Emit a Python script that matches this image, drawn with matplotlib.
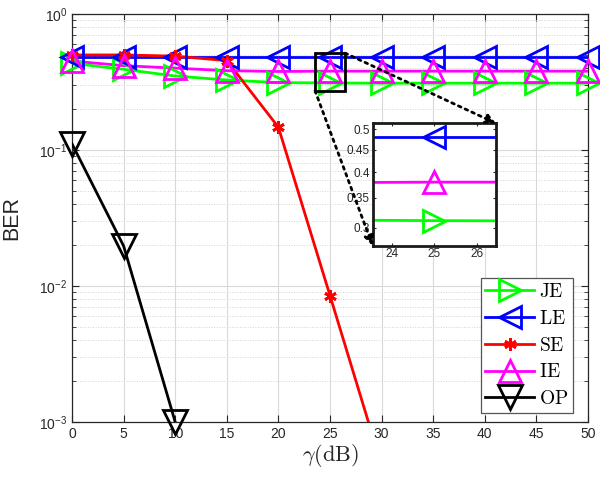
import numpy as np
import matplotlib
matplotlib.use("Agg")
import matplotlib.pyplot as plt
from matplotlib.lines import Line2D
from matplotlib.patches import Rectangle, ConnectionPatch
from matplotlib.font_manager import FontProperties
from matplotlib.ticker import LogLocator, NullFormatter, FixedLocator, FixedFormatter

plt.rcParams['font.family'] = ['Liberation Sans', 'DejaVu Sans']
plt.rcParams['mathtext.fontset'] = 'custom'
plt.rcParams['mathtext.rm'] = 'Liberation Sans'
plt.rcParams['mathtext.it'] = 'Liberation Sans:italic'

# ---------------- data ----------------
gamma_db = [0, 5, 10, 15, 20, 25, 30, 35, 40, 45, 50]
ber_je = [0.434, 0.392, 0.350, 0.327, 0.313, 0.311, 0.310, 0.310, 0.310, 0.310, 0.310]
ber_le = [0.48, 0.48, 0.48, 0.48, 0.48, 0.48, 0.48, 0.48, 0.48, 0.48, 0.48]
gamma_se = [0, 5, 10, 15, 20, 25, 30]
ber_se = [0.50, 0.50, 0.49, 0.454, 0.147, 0.0085, 0.00048]
ber_ie = [0.451, 0.417, 0.400, 0.383, 0.378, 0.38, 0.38, 0.38, 0.38, 0.38, 0.38]
gamma_op = [0, 5, 10]
ber_op = [0.111, 0.0197, 0.001]

labels = ['JE', 'LE', 'SE', 'IE', 'OP']
xticks = [0, 5, 10, 15, 20, 25, 30, 35, 40, 45, 50]
inset_xticks = [24, 25, 26]
inset_yticks = [0.3, 0.35, 0.4, 0.45, 0.5]
inset_xlim = (23.55, 26.45)
inset_ylim = (0.273, 0.516)

series = [
    (gamma_db, ber_je, (0, 1, 0), '>', 16),
    (gamma_db, ber_le, (0, 0, 1), '<', 16),
    (gamma_se, ber_se, (1, 0, 0), (6, 2, 0), 9),
    (gamma_db, ber_ie, (1, 0, 1), '^', 16),
    (gamma_op, ber_op, (0, 0, 0), 'v', 17),
]

fig = plt.figure(figsize=(6.0, 4.78), dpi=100)
ax = fig.add_axes([0.12, 0.1172, 0.86, 0.8535])

ylo, yhi = 1e-3, 1.0
lw = 2.0
handles = []
for (x, y, c, m, ms), lab in zip(series, labels):
    x = np.asarray(x, float); y = np.asarray(y, float)
    ax.plot(x, y, color=c, lw=lw, zorder=3)
    mask = (y >= ylo * 0.999) & (x <= 50)
    ax.plot(x[mask], y[mask], ls='none', marker=m, ms=ms, mfc='none',
            mec=c, mew=2.0, clip_on=False, zorder=4)
    handles.append(Line2D([], [], color=c, lw=lw, marker=m, ms=ms, mfc='none',
                          mec=c, mew=2.0))

ax.set_yscale('log')
ax.set_xlim(0, 50)
ax.set_ylim(ylo, yhi)
ax.set_xticks(xticks)
ax.yaxis.set_minor_locator(LogLocator(base=10, subs=np.arange(2, 10)))
ax.yaxis.set_minor_formatter(NullFormatter())

tc = '#262626'
ax.tick_params(which='both', direction='in', top=True, right=True, colors=tc,
               labelsize=10)
ax.tick_params(which='major', length=5)
ax.tick_params(which='minor', length=3)
for sp in ax.spines.values():
    sp.set_color(tc)
    sp.set_linewidth(0.9)
ax.grid(True, which='major', color='#d9d9d9', lw=0.8, ls='-', zorder=0)
ax.grid(True, which='minor', axis='y', color='#d4d4d4', lw=0.7, ls=':', zorder=0)
ax.set_axisbelow(True)

ax.set_ylabel('BER', fontsize=15.5, color=tc, labelpad=12)
xl = ax.set_xlabel(r'$\gamma(\mathrm{dB})$', fontsize=16, color=tc, labelpad=1)
xl.set_math_fontfamily('cm')

# zoom rectangle
ax.add_patch(Rectangle((inset_xlim[0], inset_ylim[0]),
                       inset_xlim[1] - inset_xlim[0], inset_ylim[1] - inset_ylim[0],
                       fill=False, ec='k', lw=2, zorder=6))

# legend
lp = FontProperties(family='serif', size=14, math_fontfamily='cm')
leg_labels = [r'$\mathrm{%s}$' % l for l in labels]
leg = fig.legend(handles, leg_labels, loc='lower right',
                 bbox_to_anchor=(0.955, 0.136), prop=lp, frameon=True,
                 fancybox=False, edgecolor='#555555', framealpha=1,
                 handlelength=2.5, handletextpad=0.25, labelspacing=0.45,
                 borderpad=0.25, borderaxespad=0)
leg.get_frame().set_linewidth(0.9)

# inset
axins = fig.add_axes([0.621, 0.486, 0.2055, 0.256])
for (x, y, c, m, ms) in series:
    axins.plot(x, y, color=c, lw=lw, marker=m, ms=ms, mfc='none', mec=c, mew=2.0)
axins.set_yscale('log')
axins.set_xlim(*inset_xlim)
axins.set_ylim(*inset_ylim)
axins.xaxis.set_major_locator(FixedLocator(inset_xticks))
axins.xaxis.set_major_formatter(FixedFormatter([str(v) for v in inset_xticks]))
axins.yaxis.set_major_locator(FixedLocator(inset_yticks))
axins.yaxis.set_major_formatter(FixedFormatter([str(v) for v in inset_yticks]))
axins.yaxis.set_minor_locator(FixedLocator([]))
axins.tick_params(which='both', direction='in', top=True, right=True,
                  colors=tc, labelsize=8.5, length=2, pad=2)
for sp in axins.spines.values():
    sp.set_color('#1a1a1a')
    sp.set_linewidth(2)

# dotted arrows
for (rx, ry), (ix, iy) in [((inset_xlim[1], inset_ylim[1]), (1, 1)),
                           ((inset_xlim[0], inset_ylim[0]), (0, 0))]:
    cp = ConnectionPatch(xyA=(rx, ry), coordsA=ax.transData,
                         xyB=(ix, iy), coordsB=axins.transAxes,
                         arrowstyle='-|>', mutation_scale=14, lw=2, ls=':',
                         color='k', fc='k', shrinkA=0, shrinkB=0, zorder=10)
    fig.add_artist(cp)

fig.savefig('out.png', dpi=100)
